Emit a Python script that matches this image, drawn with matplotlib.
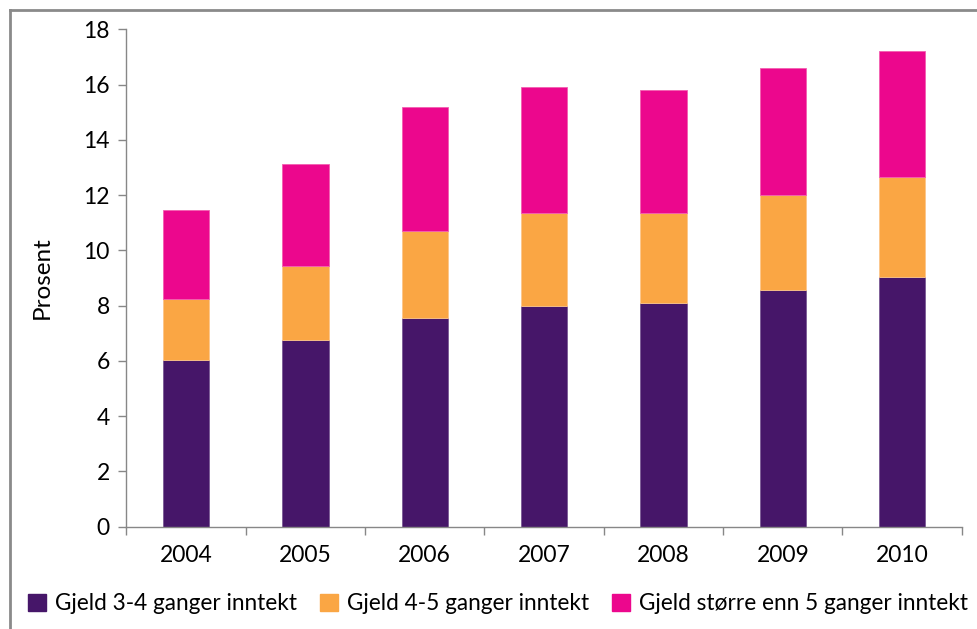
import matplotlib
matplotlib.use("Agg")
import matplotlib.pyplot as plt
from matplotlib.lines import Line2D
import numpy as np

years = ["2004", "2005", "2006", "2007", "2008", "2009", "2010"]
gjeld_3_4 = [6.05, 6.75, 7.55, 7.97, 8.08, 8.55, 9.02]
gjeld_4_5 = [2.20, 2.70, 3.16, 3.38, 3.28, 3.46, 3.64]
gjeld_over_5 = [3.22, 3.68, 4.48, 4.56, 4.44, 4.58, 4.55]
series_names = ["Gjeld 3-4 ganger inntekt", "Gjeld 4-5 ganger inntekt",
                "Gjeld større enn 5 ganger inntekt"]
colors = ["#461669", "#FAA644", "#EC078D"]
edgecolors = ["#7a5a95", "#fcc58a", "#f35fb0"]
yticks = [0, 2, 4, 6, 8, 10, 12, 14, 16, 18]

plt.rcParams['font.family'] = ['Lato', 'DejaVu Sans']

fig = plt.figure(figsize=(9.78, 6.29), dpi=100)
ax = fig.add_axes([0.1293, 0.1626, 0.9834 - 0.1293, 0.9534 - 0.1626])

x = np.arange(len(years))
bottom = np.zeros(len(years))
for vals, c, ec, name in zip([gjeld_3_4, gjeld_4_5, gjeld_over_5], colors, edgecolors, series_names):
    ax.bar(x, vals, width=0.39, bottom=bottom, color=c, edgecolor=ec, linewidth=0.6, label=name)
    bottom += np.array(vals)

ax.set_xlim(-0.5, len(years) - 0.5)
ax.set_ylim(0, 18)
ax.set_yticks(yticks)
ax.set_yticklabels([str(t) for t in yticks], fontsize=16.5)
ax.set_xticks(x)
ax.set_xticklabels(years, fontsize=16.5)
ax.tick_params(axis='x', length=0, pad=13)
ax.tick_params(axis='y', length=6, width=1, color="#878787", pad=6)
ax.set_xticks(np.arange(-0.5, len(years)), minor=True)
ax.tick_params(axis='x', which='minor', length=6, width=1, color="#878787")

for s in ["top", "right"]:
    ax.spines[s].set_visible(False)
for s in ["left", "bottom"]:
    ax.spines[s].set_color("#878787")
    ax.spines[s].set_linewidth(1)

ax.set_ylabel("Prosent", fontsize=17.5, labelpad=22)

handles = [plt.Rectangle((0, 0), 1, 1, color=c) for c in colors]
fig.legend(handles, series_names, loc="center", bbox_to_anchor=(0.509, 0.040),
           ncol=3, frameon=False, fontsize=16.3, handlelength=0.8, handleheight=0.8,
           handletextpad=0.4, columnspacing=1.0)

# outer frame (top and left visible)
fig.add_artist(Line2D([10/978, 1], [1 - 10/629, 1 - 10/629], transform=fig.transFigure,
                      color="#8a8a8a", linewidth=2))
fig.add_artist(Line2D([10/978, 10/978], [0, 1 - 10/629], transform=fig.transFigure,
                      color="#8a8a8a", linewidth=2))

fig.savefig("out.png", dpi=100)
